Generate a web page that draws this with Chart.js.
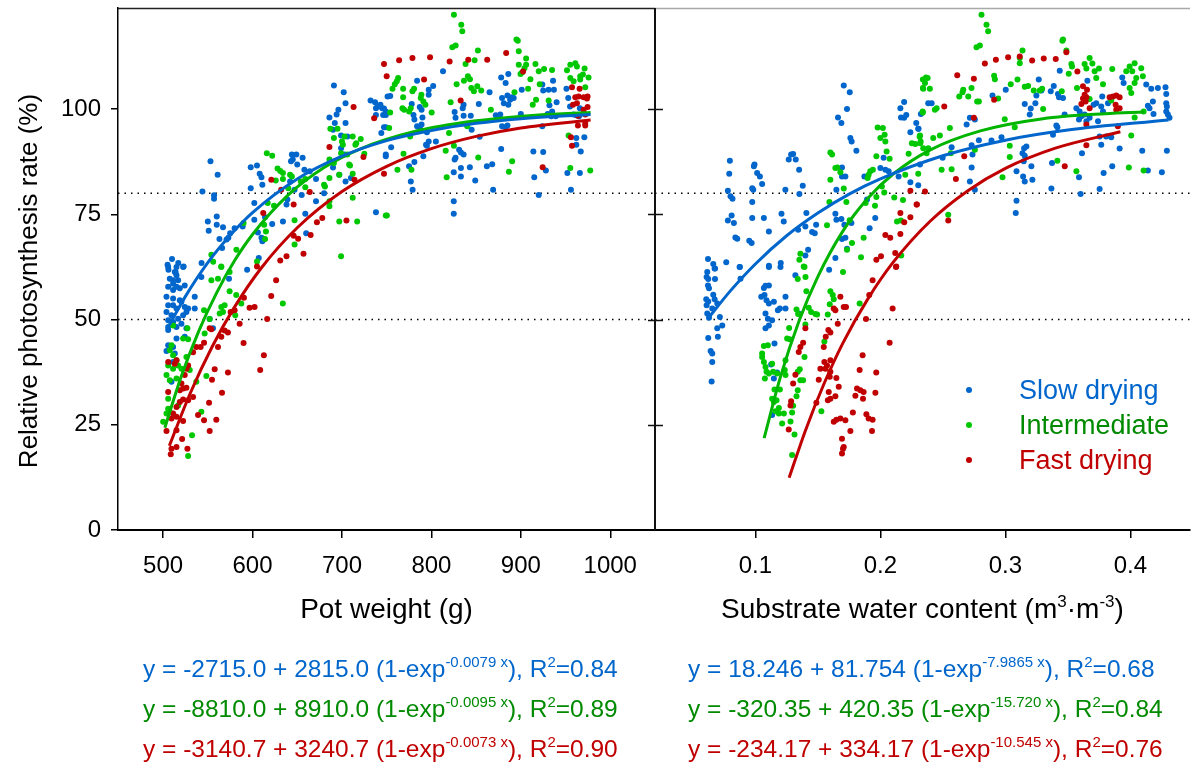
<!DOCTYPE html>
<html>
<head>
<meta charset="utf-8">
<script src="https://cdn.jsdelivr.net/npm/chart.js@4.4.1/dist/chart.umd.min.js"></script>
<style>
  html, body { margin: 0; padding: 0; background: #fff; }
  #wrap { position: relative; width: 1194px; height: 769px; font-family: "Liberation Sans", Arial, sans-serif; }
  #chart { position: absolute; left: 0; top: 0; }
  .eq { position: absolute; font-size: 24.5px; line-height: 28px; white-space: nowrap; }
  .eq .sup { font-size: 15px; position: relative; top: -10px; }
  .leg { position: absolute; left: 1019px; font-size: 27px; line-height: 32px; white-space: nowrap; }
  .dot { position: absolute; width: 6px; height: 6px; border-radius: 3px; }
  #swcTitle { position: absolute; font-size: 28px; line-height: 34px; white-space: nowrap; color: #000; transform: translateX(-50%); }
  #swcTitle .sup { font-size: 17px; position: relative; top: -11px; }
</style>
</head>
<body>
<div id="wrap">
  <canvas id="chart" width="1194" height="769"></canvas>
</div>
<script>
// axis settings
const potRange = [449.6, 1050];
const swcRange = [0.0197, 0.4477];
const yRange = [0, 124];
const potTicks = [500, 600, 700, 800, 900, 1000];
const swcTicks = [0.1, 0.2, 0.3, 0.4];
const yTicks = [0, 25, 50, 75, 100];
const refLines = [50, 80];

const seriesNames = ['Slow drying', 'Intermediate', 'Fast drying'];
const pointColors = ['#0066CC', '#00C800', '#C00000'];
const lineColors = ['#0066CC', '#00B400', '#C00000'];
const textColors = ['#0066CC', '#008A00', '#C00000'];

// pot weight (g) vs relative photosynthesis (%)
const slowPot = [[691,105.6],[702,104.0],[704,101.4],[696,99.8],[694,98.7],[686,98.0],[692,96.7],[704,96.7],[732,102.0],[737,101.6],[740,100.6],[743,101.0],[745,100.2],[738,98.6],[746,98.6],[738,100.2],[749,99.4],[751,103.0],[744,94.3],[749,95.7],[749,89.2],[690,95.1],[699,93.7],[706,93.5],[699,90.7],[703,89.2],[690,86.1],[697,84.4],[704,82.8],[710,83.6],[671,83.4],[664,85.2],[658,85.6],[650,86.8],[645,88.0],[649,89.2],[644,89.2],[656,88.4],[643,87.6],[642,82.8],[647,80.8],[639,78.5],[655,79.6],[671,78.1],[680,80.0],[738,75.5],[659,75.1],[660,70.5],[634,73.3],[638,77.3],[622,72.7],[610,69.4],[611,68.6],[606,70.7],[614,74.3],[602,73.7],[602,77.7],[598,81.2],[598,86.2],[605,86.6],[608,84.6],[610,83.8],[611,82.0],[589,72.1],[580,71.7],[575,70.5],[573,69.4],[571,69.0],[563,69.1],[566,67.0],[567,71.9],[560,74.5],[560,72.5],[550,73.3],[551,71.1],[557,78.7],[557,79.5],[553,87.6],[561,84.4],[544,80.4],[543,63.4],[510,64.4],[505,63.0],[506,61.8],[517,63.4],[523,62.6],[514,61.3],[594,61.8],[607,64.6],
  [813,109.0],[784,106.7],[802,105.5],[797,104.6],[797,103.4],[754,103.1],[778,101.2],[787,100.5],[789,99.8],[790,98.0],[780,98.6],[781,97.5],[784,95.9],[789,96.3],[788,95.1],[795,94.5],[747,100.1],[749,98.6],[747,95.7],[755,90.9],[749,88.8],[795,91.3],[797,92.3],[791,88.8],[781,87.4],[775,86.4],[777,82.8],[779,80.8],[836,101.0],[835,100.2],[826,99.3],[827,97.9],[836,98.4],[839,96.3],[844,98.4],[845,95.1],[853,101.2],[854,93.4],[865,104.0],[878,107.5],[883,106.2],[886,108.3],[879,102.6],[881,101.4],[885,103.2],[890,102.8],[888,102.2],[892,102.6],[886,101.0],[872,98.5],[877,98.7],[879,95.9],[885,96.1],[883,95.7],[901,104.6],[900,98.8],[924,105.8],[925,104.4],[936,106.7],[931,104.6],[937,104.6],[932,100.9],[940,101.6],[935,99.4],[930,98.8],[934,98.3],[939,98.3],[924,95.9],[951,104.8],[953,102.6],[955,100.6],[959,98.7],[962,98.5],[966,100.2],[965,98.3],[827,88.4],[831,90.3],[833,89.7],[836,89.2],[826,88.0],[833,86.0],[843,86.2],[825,85.0],[833,84.0],[849,83.0],[862,86.4],[868,86.9],[878,90.5],[869,80.8],[914,89.9],[925,89.8],[928,85.4],[915,83.8],[920,79.6],[952,84.8],[966,84.8],[956,80.8],[962,93.1],[962,91.5],[967,89.9],[971,93.3],[825,78.1],[825,75.1],[805,92.3],[794,91.5],
  [505.7,62.5],[515,62.5],[522.4,62.5],[513.1,61.3],[515,60.5],[507.5,59.7],[511.2,59.3],[516.8,59.3],[511.2,58.5],[505.7,57.8],[515,57.8],[518.7,57.4],[524.2,58.1],[511.2,57.0],[503.8,55.4],[511.2,55.0],[518.7,54.6],[520.5,54.2],[505.7,53.4],[511.2,53.4],[515,52.6],[524.2,53.0],[528,52.6],[535.4,52.6],[526.1,51.8],[503.8,51.8],[509.4,51.0],[522.4,51.0],[516.8,50.2],[505.7,49.8],[511.2,49.4],[520.5,49.0],[505.7,48.2],[515,48.2],[505.7,47.5],[526.1,47.9],[515,45.5],[524.2,45.9],[505.7,43.9],[511.2,43.5],[503.8,42.5],[513.1,41.9],[535.4,55.4],[542.8,60.1],[552.1,50.1],[555.8,47.9],[573.7,59.7],[511.2,39.9],[509.4,35.2]];

const interPot = [[616,89.5],[622,88.9],[628,85.9],[631,85.3],[634,84.8],[626,83.0],[634,83.4],[642,84.4],[644,84.0],[654,82.8],[659,83.4],[659,81.4],[687,95.3],[695,95.3],[691,93.1],[703,93.5],[700,92.3],[701,91.5],[699,89.5],[706,89.2],[712,93.5],[715,91.5],[721,92.9],[716,91.9],[725,89.4],[686,88.0],[691,87.2],[697,84.4],[712,84.6],[708,86.8],[709,86.6],[686,83.6],[680,82.0],[681,81.6],[640,81.2],[617,77.7],[624,77.0],[613,72.5],[614,69.1],[615,70.9],[647,73.6],[647,67.8],[686,76.9],[686,78.1],[712,78.9],[697,73.3],[717,73.3],[699,65.0],[749,74.7],[554,65.4],[556,63.7],[565,62.6],[582,66.6],[590,72.9],[605,63.8],
  [825.2,122.4],[833.4,120.0],[834.5,118.5],[823.4,114.7],[827.1,115.1],[852,113.9],[848.3,111.6],[838.2,110.7],[828.2,105.9],[836.4,106.7],[840.8,107.8],[843.1,107.1],[844.6,105.0],[851.3,105.4],[855.7,104.4],[847.5,104.2],[895.1,116.5],[896.6,116.2],[897.7,113.7],[897.7,110.5],[904,109.7],[905.9,112.0],[905.9,110.5],[901.4,108.7],[899.6,108.3],[910.7,107.1],[908.1,104.8],[916.3,110.7],[920,109.0],[926,109.5],[934.9,109.3],[921.1,105.9],[913.3,101.0],[917,102.2],[931.1,102.0],[892.9,104.0],[866.5,99.8],[951.6,109.2],[955.3,110.5],[960.9,110.9],[962.7,110.1],[971.3,109.6],[966.4,107.8],[975.7,107.5],[969.4,108.2],[955.3,107.4],[959,106.6],[966.4,107.0],[972,105.2],[756.5,104.8],[762.8,107.4],[761.3,106.6],[759.1,105.9],[768.4,104.8],[768.4,102.8],[767.6,100.2],[776.9,100.2],[769.5,99.8],[775.1,99.4],[778.8,104.2],[780.6,104.8],[788.8,103.4],[788.1,102.6],[791,101.8],[793.3,101.0],[800.3,99.2],[753.9,99.2],[752.8,95.5],[776.2,93.5],[777.7,85.6],[762,85.6],[768.8,89.4],[750.2,74.7],[821.5,101.6],[819.7,94.3],[816,90.1],[825.2,91.3],[840.1,95.9],[852.4,88.5],[817.1,83.8],[890.3,87.6],[886.6,85.1],[955.3,86.0],[977.6,85.4],[953.4,93.7],
  [565.1,62.5],[554,59.3],[561.4,59.7],[574.4,61.3],[574.4,56.7],[581.8,55.8],[587.4,53.8],[633.9,53.8],[565.1,53.0],[568.8,53.4],[563.3,51.4],[567,51.8],[580.7,51.0],[545.8,52.2],[552.1,50.1],[546.5,46.7],[522.4,45.5],[528,45.3],[511.2,48.6],[527.2,47.9],[509.4,43.9],[507.5,42.7],[511.2,41.5],[515,40.3],[505.7,39.1],[503.8,36.8],[511.2,38.3],[520.5,38.3],[526.1,41.1],[529.8,38.0],[516.8,39.1],[507.5,35.6],[515,36.0],[537.2,35.2],[548.4,36.6],[505.7,31.2],[505.7,28.8],[503.8,27.7],[507.5,28.1],[500.1,25.7],[516.8,29.6],[542.8,28.1],[532.4,22.5],[528,17.6]];

const fastPot = [[747,110.7],[750,107.8],[713,100.5],[736,97.8],[686,91.0],[724,88.6],[747,84.6],[714,83.2],[621,83.2],[632,80.8],[664,80.3],[646,77.3],[612,75.3],[678,74.1],[672,73.1],[705,73.5],[646,69.9],[651,69.2],[665,70.1],[657,65.6],[638,65.0],[631,64.0],[605,62.6],
  [763.9,111.6],[778.8,112.1],[798.5,112.3],[820.4,111.3],[841.2,111.7],[862.4,111.7],[883.6,113.3],[902.5,108.9],[791.8,107.0],[832.7,102.0],[924.4,86.2],[957.2,105.2],[965.7,104.8],[960.9,102.8],[964.6,103.0],[970.2,102.8],[974.6,103.0],[973.9,102.5],[958.3,101.0],[962.7,101.4],[970.2,99.8],[974.6,100.5],[963.8,98.4],[972,98.7],[963.8,96.1],[972,96.1],[972,96.7],[956,93.3],[957.2,91.3],
  [626.4,59.3],[620.9,55.6],[602.3,53.0],[596.7,52.8],[590.4,55.2],[580,52.2],[575.5,51.8],[585.6,49.0],[616.4,50.1],[552.1,47.9],[554,47.7],[565.1,45.9],[568.8,47.4],[572.5,46.9],[590,44.4],[545.8,44.5],[542,43.5],[537.2,43.5],[561.4,43.5],[533.5,42.2],[612.7,41.5],[608.6,38.0],[557.7,38.2],[572.5,37.4],[554.7,35.7],[565.9,32.6],[505.7,39.9],[515,40.3],[513.1,39.5],[528,39.1],[524.2,36.8],[526.1,38.3],[520.5,34.8],[522.4,33.6],[526.1,33.8],[518.7,33.2],[522.4,31.0],[528,30.8],[533.5,31.6],[505.7,32.8],[518.7,30.4],[515,29.2],[511.2,27.7],[515,26.9],[509.4,26.5],[522.4,25.9],[551.4,30.2],[539.1,27.3],[545.8,26.1],[559.5,26.2],[552.1,23.5],[515,23.7],[503.8,23.5],[521.3,21.6],[515,19.7],[509.4,19.3],[508.6,18.0],[527.2,19.3]];

// substrate water content (m3 m-3) vs relative photosynthesis (%)
const slowSwc = [[0.1707,105.6],[0.1755,104.0],[0.1733,100.0],[0.1661,98.0],[0.1688,96.7],[0.176,93.1],[0.177,92.3],[0.1808,90.1],[0.0796,87.7],[0.0791,84.6],[0.078,80.6],[0.0801,79.3],[0.0817,78.7],[0.078,73.5],[0.081,74.7],[0.0828,72.9],[0.084,69.5],[0.0855,69.2],[0.0767,63.6],[0.0874,62.5],[0.0621,64.4],[0.0663,63.2],[0.0674,62.1],[0.0993,86.8],[0.0988,86.4],[0.1014,84.8],[0.1036,84.0],[0.1054,82.2],[0.0975,81.2],[0.0983,80.8],[0.0975,77.9],[0.0975,74.1],[0.1068,74.1],[0.0951,68.7],[0.097,68.2],[0.1108,70.9],[0.1108,62.8],[0.1203,63.4],[0.1209,75.1],[0.1227,73.3],[0.124,80.8],[0.1267,88.0],[0.1286,89.2],[0.1302,89.3],[0.1323,88.0],[0.135,85.6],[0.1379,81.8],[0.1352,79.8],[0.1408,75.3],[0.1342,71.3],[0.14,72.1],[0.1486,72.5],[0.1454,70.8],[0.1475,70.5],[0.1422,66.6],[0.14,65.2],[0.1648,80.8],[0.164,75.1],[0.1648,73.7],[0.1688,73.9],[0.1712,72.5],[0.1768,72.9],[0.1693,86.1],[0.1693,84.0],[0.172,84.0],[0.1872,84.0],[0.1893,78.5],[0.1959,74.1],[0.1914,71.7],[0.164,64.6],[0.1693,69.1],[0.172,69.4],[0.1733,66.8],[0.2,86.0],[0.204,85.6],[0.2066,85.2],[0.2026,88.4],[0.2146,84.0],[0.224,82.6],[0.216,100.2],[0.219,101.7],[0.2165,98.0],[0.2207,98.6],[0.219,97.9],[0.2287,96.7],[0.2305,95.3],[0.224,94.5],[0.2324,98.8],
  [0.3435,109.1],[0.3267,107.0],[0.3003,104.6],[0.2897,103.2],[0.3155,101.2],[0.3203,100.1],[0.3195,98.7],[0.3248,103.2],[0.324,101.4],[0.3288,104.4],[0.3363,104.2],[0.3387,105.5],[0.3429,102.8],[0.3461,102.6],[0.3421,103.6],[0.3474,98.7],[0.3408,96.1],[0.3416,95.7],[0.3381,93.9],[0.3656,106.7],[0.3568,100.2],[0.3594,99.4],[0.3608,98.3],[0.3634,98.7],[0.3674,97.9],[0.3589,97.5],[0.3648,97.1],[0.3706,101.0],[0.3727,101.4],[0.3767,100.6],[0.3781,99.4],[0.3775,103.0],[0.3821,101.4],[0.3741,97.1],[0.3754,93.5],[0.3767,91.5],[0.3807,93.5],[0.3847,93.3],[0.3613,89.5],[0.3914,90.6],[0.3935,107.5],[0.3946,106.2],[0.4127,105.8],[0.4167,104.8],[0.422,105.0],[0.4281,105.2],[0.4287,103.6],[0.4287,101.4],[0.4292,100.6],[0.418,101.8],[0.414,100.8],[0.4153,100.2],[0.4185,98.8],[0.4287,99.4],[0.4313,97.9],[0.43,98.7],[0.4095,90.1],[0.414,85.4],[0.4252,85.0],[0.4292,90.1],[0.3855,86.4],[0.3786,84.8],[0.3754,81.0],[0.3602,79.8],[0.3589,83.8],[0.3368,81.1],[0.3373,87.2],[0.3216,83.2],[0.3208,86.4],[0.3089,85.2],[0.315,90.7],[0.3168,91.1],[0.3137,89.5],[0.3155,88.9],[0.3147,87.6],[0.3142,84.0],[0.3155,82.8],[0.3089,78.2],[0.3083,75.3],[0.2969,93.3],[0.2889,92.5],[0.2788,92.6],[0.273,91.4],[0.2737,89.2],[0.273,86.1],[0.2756,80.8],[0.2716,82.8],[0.269,96.3],[0.2716,97.9],[0.2756,97.5],[0.257,90.9],[0.2498,88.4],[0.2383,101.4],[0.241,101.4],[0.2303,95.3],[0.2317,86.8],[0.2303,81.9],
  [0.0615,61.3],[0.061,60.1],[0.0623,59.6],[0.0677,59.6],[0.0621,58.1],[0.0629,57.4],[0.0663,55.9],[0.0607,54.8],[0.0623,54.3],[0.0674,54.8],[0.0695,53.8],[0.061,53.4],[0.0655,52.6],[0.0615,51.4],[0.0629,50.4],[0.0716,50.6],[0.0695,47.9],[0.0735,48.6],[0.07,45.9],[0.0623,45.6],[0.0642,42.5],[0.0655,41.9],[0.0655,39.9],[0.065,35.3],[0.0677,62.1],[0.0876,62.5],[0.0881,59.7],[0.1068,57.5],[0.1081,58.0],[0.1108,58.1],[0.1073,55.8],[0.1047,55.4],[0.1089,54.6],[0.1108,53.8],[0.1148,54.2],[0.118,52.2],[0.1196,52.6],[0.1241,52.6],[0.1081,51.4],[0.11,50.2],[0.1134,49.8],[0.1108,48.6],[0.1081,47.9],[0.1153,44.3],[0.1126,39.3],[0.1174,37.4],[0.1148,36.0],[0.1134,27.3],[0.1241,55.4],[0.132,60.5],[0.1347,51.4],[0.1108,62.5],[0.1201,62.5],[0.159,61.8]];

const interSwc = [[0.234,107.0],[0.234,105.0],[0.1978,95.6],[0.202,95.5],[0.2,93.1],[0.2034,93.9],[0.204,92.3],[0.205,89.9],[0.2074,88.2],[0.194,85.6],[0.1919,85.2],[0.1906,84.4],[0.1898,83.6],[0.1968,88.8],[0.16,89.7],[0.1614,89.2],[0.164,86.0],[0.1655,86.1],[0.168,85.0],[0.16,83.2],[0.1707,81.1],[0.1592,77.9],[0.1728,77.9],[0.1754,73.6],[0.1573,72.4],[0.1773,68.2],[0.1733,66.6],[0.1845,64.8],[0.1866,69.4],[0.1882,77.7],[0.1957,77.0],[0.1968,79.1],[0.2012,81.6],[0.2031,80.2],[0.2111,79.0],[0.2181,78.4],[0.2199,84.4],[0.2226,89.4],[0.2252,91.9],[0.2279,91.7],[0.2319,91.9],[0.2314,93.4],[0.234,99.2],[0.2133,73.3],[0.2164,73.5],[0.2167,65.2],[0.136,65.6],[0.1352,64.2],[0.1387,62.6],
  [0.2809,122.4],[0.2849,120.0],[0.2862,118.5],[0.2769,114.7],[0.2796,115.1],[0.3137,113.9],[0.3115,112.1],[0.3115,110.9],[0.291,107.9],[0.2916,107.1],[0.2365,107.5],[0.2378,107.4],[0.2357,106.2],[0.2396,104.8],[0.2343,104.8],[0.2663,104.6],[0.2657,104.0],[0.2729,105.0],[0.2703,103.0],[0.2631,103.0],[0.2774,101.8],[0.2788,101.8],[0.2942,102.5],[0.3043,105.9],[0.3097,107.0],[0.3155,105.3],[0.3182,105.5],[0.3227,104.4],[0.3294,104.8],[0.3275,104.4],[0.3302,100.0],[0.3461,116.5],[0.3456,116.2],[0.3488,113.9],[0.3533,110.1],[0.3528,110.7],[0.3507,108.4],[0.3634,110.7],[0.3674,112.1],[0.3696,110.8],[0.3648,109.6],[0.3714,109.0],[0.3749,109.6],[0.3727,107.4],[0.3781,105.9],[0.3855,109.5],[0.3967,109.0],[0.3994,110.1],[0.4034,110.9],[0.4015,109.0],[0.4047,107.4],[0.4087,109.7],[0.41,107.8],[0.4034,106.2],[0.3994,105.0],[0.4007,103.8],[0.3451,104.2],[0.3573,105.0],[0.3674,102.4],[0.3847,102.0],[0.4106,99.4],[0.4034,98.0],[0.4007,93.7],[0.3988,86.1],[0.4106,85.4],[0.3568,85.2],[0.3416,87.7],[0.2995,97.6],[0.3075,95.7],[0.3035,91.3],[0.3035,88.6],[0.2977,83.8],[0.257,85.7],[0.249,85.6],[0.2556,95.5],[0.2476,93.7],[0.2423,93.1],[0.2436,99.8],[0.245,100.2],[0.2338,99.4],[0.2317,93.7],[0.2322,92.3],[0.2343,90.7],[0.237,89.5],[0.2383,90.7],[0.2303,84.6],[0.2564,89.5],[0.2756,90.3],[0.2543,74.9],
  [0.1393,62.5],[0.1401,60.1],[0.1339,59.6],[0.1408,56.7],[0.1427,52.8],[0.1446,51.8],[0.148,51.3],[0.1494,51.2],[0.1329,52.4],[0.1342,51.3],[0.14,48.8],[0.127,48.0],[0.1254,45.5],[0.1275,45.3],[0.1068,43.7],[0.11,43.9],[0.1054,41.9],[0.1054,41.1],[0.1068,39.9],[0.1081,38.7],[0.1089,37.6],[0.1108,37.2],[0.1134,39.5],[0.1142,37.6],[0.1174,37.2],[0.1076,36.0],[0.1235,38.0],[0.1241,36.8],[0.1241,40.3],[0.1355,38.2],[0.1339,37.6],[0.1393,41.1],[0.1382,35.6],[0.136,35.6],[0.1196,33.4],[0.1153,33.4],[0.1134,31.2],[0.1148,30.4],[0.1169,30.8],[0.1188,29.0],[0.1161,28.2],[0.1188,27.7],[0.1228,27.7],[0.1294,27.9],[0.1302,29.5],[0.1329,31.8],[0.1339,33.2],[0.1214,25.3],[0.1281,25.8],[0.1313,22.7],[0.1294,17.8],[0.1528,28.2],[0.1579,51.2],[0.1595,53.6],[0.16,56.7],[0.1619,55.8],[0.1627,54.8],[0.1701,61.3],[0.1834,53.8],[0.1552,44.8]];

const fastSwc = [[0.224,80.6],[0.2292,77.3],[0.216,75.3],[0.2191,73.1],[0.224,74.3],[0.216,70.3],[0.204,70.1],[0.2079,69.4],[0.2119,65.8],[0.1968,64.2],[0.2005,65.0],[0.2127,62.6],
  [0.3488,113.5],[0.3403,111.9],[0.3307,112.0],[0.3214,111.5],[0.3115,112.5],[0.3022,112.3],[0.2924,111.7],[0.2836,110.8],[0.2615,108.0],[0.2748,107.2],[0.291,102.2],[0.2511,100.6],[0.2748,97.9],[0.2671,88.8],[0.2604,83.4],[0.2357,80.4],[0.229,77.3],[0.2543,73.5],[0.3475,86.4],[0.3576,108.9],[0.3621,105.4],[0.3653,104.6],[0.3634,103.4],[0.3621,102.5],[0.3648,102.8],[0.3642,101.8],[0.3608,101.2],[0.3674,100.2],[0.3648,96.3],[0.3648,91.4],[0.3834,102.8],[0.3861,103.0],[0.3887,103.2],[0.3914,102.8],[0.3882,101.0],[0.3914,100.2],[0.3887,99.8],[0.39,95.9],
  [0.2125,62.5],[0.1938,59.3],[0.1911,55.8],[0.168,55.4],[0.1707,53.0],[0.1725,53.0],[0.1627,52.6],[0.164,52.2],[0.1659,49.0],[0.2098,52.6],[0.1885,50.1],[0.1584,47.5],[0.16,46.9],[0.1563,45.9],[0.1547,43.5],[0.14,47.9],[0.1382,44.5],[0.136,43.5],[0.1347,42.3],[0.2074,44.5],[0.1858,41.5],[0.1552,39.9],[0.16,40.3],[0.1573,39.1],[0.152,38.3],[0.156,38.3],[0.16,37.6],[0.1595,36.4],[0.1507,35.7],[0.1834,38.0],[0.1967,37.4],[0.1648,36.1],[0.1667,34.0],[0.164,31.8],[0.132,36.9],[0.1302,34.8],[0.1587,32.8],[0.158,30.8],[0.16,31.2],[0.1813,33.6],[0.184,33.2],[0.1866,32.8],[0.1861,31.2],[0.18,31.9],[0.196,32.6],[0.1286,30.6],[0.1281,29.6],[0.1488,30.2],[0.178,27.9],[0.1888,27.5],[0.1648,26.2],[0.168,26.5],[0.172,26.1],[0.1627,25.7],[0.1906,26.5],[0.1938,26.2],[0.1933,23.5],[0.176,23.5],[0.1267,23.9],[0.1693,21.7],[0.1707,19.7],[0.1701,19.3],[0.1693,18.2]];

// fitted curves
const slowPotFit = [[507,48.7],[525,55.5],[550,63.5],[575,70.0],[600,75.4],[650,83.4],[700,88.8],[750,92.5],[800,94.9],[850,96.6],[900,97.7],[978,98.7]];
const interPotFit = [[502,24.3],[520,36.3],[540,47.3],[560,56.4],[580,64.0],[600,70.2],[640,79.6],[680,86.1],[720,90.5],[780,94.6],[850,97.2],[920,98.6],[978,99.2]];
const fastPotFit = [[507,20.0],[530,32.3],[555,43.6],[580,53.0],[610,62.3],[650,71.8],[700,80.4],[750,86.4],[800,90.6],[850,93.5],[900,95.5],[978,97.4]];
const slowSwcFit = [[0.062,50.2],[0.08,56.8],[0.1,63.2],[0.125,69.9],[0.15,75.3],[0.175,79.8],[0.2,83.4],[0.25,88.9],[0.3,92.6],[0.35,95.0],[0.4305,97.4]];
const interSwcFit = [[0.107,21.8],[0.12,36.3],[0.135,49.7],[0.15,60.2],[0.17,71.0],[0.19,78.8],[0.21,84.5],[0.24,90.3],[0.28,94.8],[0.33,97.7],[0.38,98.9],[0.411,99.3]];
const fastSwcFit = [[0.127,12.4],[0.14,23.6],[0.155,34.8],[0.17,44.4],[0.19,54.9],[0.21,63.5],[0.24,73.4],[0.27,80.6],[0.3,85.9],[0.34,90.7],[0.392,94.6]];

const potEquations = [
  ['-2715.0', '2815.0', '-0.0079', '0.84'],
  ['-8810.0', '8910.0', '-0.0095', '0.89'],
  ['-3140.7', '3240.7', '-0.0073', '0.90']
];
const swcEquations = [
  ['18.246', '81.754', '-7.9865', '0.68'],
  ['-320.35', '420.35', '-15.720', '0.84'],
  ['-234.17', '334.17', '-10.545', '0.76']
];

const FONT = '"Liberation Sans", Arial, sans-serif';
const toPts = a => a.map(p => ({x: p[0], y: p[1]}));

function scatterSet(data, i, axis) {
  return {
    type: 'scatter', label: seriesNames[i], xAxisID: axis, data: toPts(data),
    pointRadius: 3, pointBorderWidth: 0, pointBackgroundColor: pointColors[i],
    order: 6 - i
  };
}
function fitSet(data, i, axis) {
  return {
    type: 'line', xAxisID: axis, data: toPts(data), borderColor: lineColors[i],
    borderWidth: 3, pointRadius: 0, cubicInterpolationMode: 'monotone', fill: false, order: 0
  };
}
function refSet(v, axis, range) {
  return {
    type: 'line', xAxisID: axis, data: [{x: range[0], y: v}, {x: range[1], y: v}],
    borderColor: '#000', borderWidth: 1.3, borderDash: [1.5, 5], pointRadius: 0, order: 10
  };
}

const datasets = [
  fitSet(slowPotFit, 0, 'xPot'), fitSet(interPotFit, 1, 'xPot'), fitSet(fastPotFit, 2, 'xPot'),
  fitSet(slowSwcFit, 0, 'xSwc'), fitSet(interSwcFit, 1, 'xSwc'), fitSet(fastSwcFit, 2, 'xSwc'),
  scatterSet(slowPot, 0, 'xPot'), scatterSet(interPot, 1, 'xPot'), scatterSet(fastPot, 2, 'xPot'),
  scatterSet(slowSwc, 0, 'xSwc'), scatterSet(interSwc, 1, 'xSwc'), scatterSet(fastSwc, 2, 'xSwc')
];
refLines.forEach(v => {
  datasets.push(refSet(v, 'xPot', potRange));
  datasets.push(refSet(v, 'xSwc', swcRange));
});

function xAxis(range, ticks, weight, title) {
  return {
    type: 'linear', position: 'bottom', stack: 'panels', stackWeight: weight,
    min: range[0], max: range[1],
    afterBuildTicks: s => { s.ticks = ticks.map(v => ({value: v})); },
    afterFit: s => { s.height = 100; s.paddingLeft = 0; s.paddingRight = 0; },
    grid: {drawOnChartArea: false, drawTicks: true, tickLength: 8, color: '#000', lineWidth: 1.5},
    border: {display: true, color: '#000', width: 2},
    ticks: {color: '#000', padding: 14, autoSkip: false, maxRotation: 0,
      font: {family: FONT, size: 24}, callback: v => String(v)},
    title: {display: !!title, text: title, color: '#000', font: {family: FONT, size: 28}, padding: {top: 0, bottom: 3}}
  };
}

const panelFrame = {
  id: 'panelFrame',
  afterDraw(chart) {
    const {ctx, chartArea: a, scales} = chart;
    const xm = scales.xPot.right;
    ctx.save();
    ctx.lineWidth = 1.5;
    ctx.strokeStyle = '#222';
    ctx.beginPath(); ctx.moveTo(a.left, a.top + 0.5); ctx.lineTo(xm, a.top + 0.5); ctx.stroke();
    ctx.strokeStyle = '#a8a8a8';
    ctx.beginPath(); ctx.moveTo(xm, a.top + 0.5); ctx.lineTo(a.right, a.top + 0.5); ctx.stroke();
    ctx.strokeStyle = '#111';
    ctx.lineWidth = 2;
    ctx.beginPath(); ctx.moveTo(xm, a.top); ctx.lineTo(xm, a.bottom); ctx.stroke();
    ctx.lineWidth = 1.5;
    ctx.beginPath();
    yTicks.forEach(v => {
      if (v === 0) return;
      const py = Math.round(scales.y.getPixelForValue(v)) + 0.5;
      ctx.moveTo(xm - 7, py); ctx.lineTo(xm + 8, py);
    });
    ctx.stroke();
    // y axis title, sitting a little below the middle as in the source figure
    ctx.fillStyle = '#000';
    ctx.font = '26px ' + FONT;
    ctx.textAlign = 'center';
    ctx.textBaseline = 'middle';
    ctx.translate(30, 281);
    ctx.rotate(-Math.PI / 2);
    ctx.fillText('Relative photosynthesis rate (%)', 0, 0);
    ctx.restore();
  }
};

const chart = new Chart(document.getElementById('chart'), {
  type: 'scatter',
  data: {datasets: datasets},
  options: {
    responsive: false,
    animation: false,
    events: [],
    devicePixelRatio: 1,
    layout: {padding: {left: 0, top: 8, right: 0, bottom: 139}},
    plugins: {legend: {display: false}, tooltip: {enabled: false}},
    scales: {
      xPot: xAxis(potRange, potTicks, 539, 'Pot weight (g)'),
      xSwc: xAxis(swcRange, swcTicks, 537, ''),
      y: {
        type: 'linear', position: 'left', min: yRange[0], max: yRange[1],
        afterBuildTicks: s => { s.ticks = yTicks.map(v => ({value: v})); },
        afterFit: s => { s.width = 118; s.paddingTop = 0; s.paddingBottom = 0; },
        grid: {drawOnChartArea: false, drawTicks: true, tickLength: 7, color: '#000', lineWidth: 1.5},
        border: {display: true, color: '#000', width: 1.5},
        ticks: {color: '#000', padding: 10, autoSkip: false, font: {family: FONT, size: 24}},
        title: {display: false}
      }
    }
  },
  plugins: [panelFrame]
});

// right axis title (needs real superscripts), legend and fit equations as page text
const wrap = document.getElementById('wrap');
const swcTitle = document.createElement('div');
swcTitle.id = 'swcTitle';
swcTitle.style.left = ((chart.scales.xSwc.left + chart.scales.xSwc.right) / 2) + 'px';
swcTitle.style.top = '591.5px';
swcTitle.innerHTML = 'Substrate water content (m<span class="sup">3</span>\u00B7m<span class="sup">-3</span>)';
wrap.appendChild(swcTitle);

const legendY = [390, 425, 460];
seriesNames.forEach((name, i) => {
  const d = document.createElement('div');
  d.className = 'dot';
  d.style.left = '966px';
  d.style.top = (legendY[i] - 3) + 'px';
  d.style.background = pointColors[i];
  wrap.appendChild(d);
  const t = document.createElement('div');
  t.className = 'leg';
  t.style.top = (legendY[i] - 15.6) + 'px';
  t.style.color = textColors[i];
  t.textContent = name;
  wrap.appendChild(t);
});

const eqY = [669.3, 708.5, 749.3];
function addEquation(eq, i, left) {
  const d = document.createElement('div');
  d.className = 'eq';
  d.style.left = left + 'px';
  d.style.top = (eqY[i] - 13.9) + 'px';
  d.style.color = textColors[i];
  d.innerHTML = 'y = ' + eq[0] + ' + ' + eq[1] + ' (1-exp<span class="sup">' + eq[2] +
    ' x</span>), R<span class="sup">2</span>=' + eq[3];
  wrap.appendChild(d);
}
potEquations.forEach((eq, i) => addEquation(eq, i, 143));
swcEquations.forEach((eq, i) => addEquation(eq, i, 688));
</script>
</body>
</html>
